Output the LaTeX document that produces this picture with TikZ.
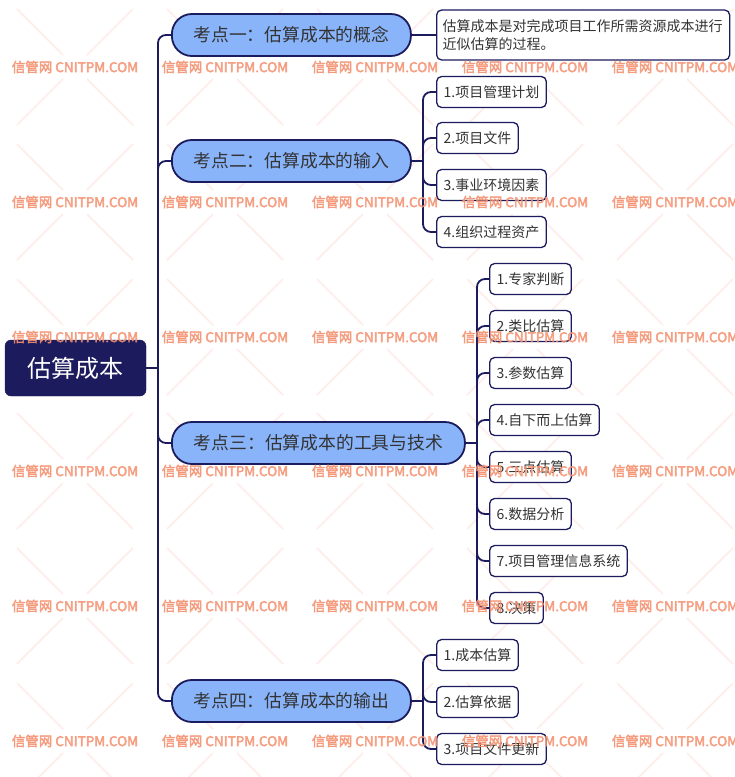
\documentclass[tikz,border=0pt]{standalone}
\usepackage{fontspec}
\setmainfont{Noto Sans CJK SC}
\newfontfamily\wmfont[FakeBold=3]{Noto Sans CJK SC}
\definecolor{navy}{RGB}{28,27,94}
\definecolor{topicblue}{RGB}{137,180,250}
\definecolor{txt}{RGB}{51,51,51}
\definecolor{wmred}{RGB}{245,145,112}
\definecolor{wmline}{RGB}{254,236,232}
\begin{document}
\begin{tikzpicture}[x=1pt,y=-1pt,
  line/.style={draw=navy,line width=1.8pt},
  link/.style={line,rounded corners=8pt},
  rootbox/.style={fill=navy,draw=navy,rounded corners=6pt,minimum width=141pt,minimum height=56pt,text=white,font=\fontsize{24}{28}\selectfont},
  topic/.style={fill=topicblue,draw=navy,line width=1.8pt,rounded corners=20pt,minimum height=42pt,text=txt,font=\fontsize{17.8}{20}\selectfont,anchor=west,inner xsep=0pt},
  leaf/.style={fill=white,draw=navy,line width=1.3pt,rounded corners=5pt,minimum height=31pt,text=txt,font=\fontsize{14}{18}\selectfont,anchor=west,inner xsep=7pt},
  wm/.style={text=wmred,opacity=0.8,font=\wmfont\fontsize{13.5}{15}\selectfont},
  wmx/.style={draw=wmline,line width=1.5pt}
]
\useasboundingbox[fill=white] (0,0) rectangle (735,777);
% faint watermark crosses
\foreach \cx in {75,225,375,525,675}{
  \foreach \cy in {67,202,337,471,606,741}{
    \draw[wmx] (\cx-58,\cy-58) -- (\cx-12,\cy-12);
    \draw[wmx] (\cx+58,\cy-58) -- (\cx+12,\cy-12);
    \draw[wmx] (\cx-58,\cy+58) -- (\cx-12,\cy+12);
    \draw[wmx] (\cx+58,\cy+58) -- (\cx+12,\cy+12);
  }
}
% nodes
\node[rootbox] (root) at (75.5,368) {估算成本};
\node[topic,minimum width=239pt] (t1) at (171,35) {考点一：估算成本的概念};
\node[topic,minimum width=239pt] (t2) at (171,161) {考点二：估算成本的输入};
\node[topic,minimum width=293pt] (t3) at (171,443) {考点三：估算成本的工具与技术};
\node[topic,minimum width=239pt] (t4) at (171,701) {考点四：估算成本的输出};

\node[leaf,minimum height=50pt,align=left,inner xsep=6pt,text width=281pt] (d1) at (436,35) {估算成本是对完成项目工作所需资源成本进行\\近似估算的过程。};

\node[leaf] (a1) at (436,92) {1.项目管理计划};
\node[leaf] (a2) at (436,138) {2.项目文件};
\node[leaf] (a3) at (436,185) {3.事业环境因素};
\node[leaf] (a4) at (436,232) {4.组织过程资产};

\node[leaf] (b1) at (489,279) {1.专家判断};
\node[leaf] (b2) at (489,326) {2.类比估算};
\node[leaf] (b3) at (489,373) {3.参数估算};
\node[leaf] (b4) at (489,420) {4.自下而上估算};
\node[leaf] (b5) at (489,467) {5.三点估算};
\node[leaf] (b6) at (489,514) {6.数据分析};
\node[leaf] (b7) at (489,561) {7.项目管理信息系统};
\node[leaf] (b8) at (489,608) {8.决策};

\node[leaf] (c1) at (436,655) {1.成本估算};
\node[leaf] (c2) at (436,702) {2.估算依据};
\node[leaf] (c3) at (436,749) {3.项目文件更新};

% connectors
\coordinate (j0) at (158,368);
\draw[line] (root.east) -- (j0);
\foreach \t in {t1,t2,t3,t4} \draw[link] (j0) |- (\t.west);

\draw[line] (t1.east) -- (d1.west);

\coordinate (j2) at (423,161);
\draw[line] (t2.east) -- (j2);
\foreach \t in {a1,a2,a3,a4} \draw[link] (j2) |- (\t.west);

\coordinate (j3) at (477,443);
\draw[line] (t3.east) -- (j3);
\foreach \t in {b1,b2,b3,b4,b5,b6,b7,b8} \draw[link] (j3) |- (\t.west);

\coordinate (j4) at (423,701);
\draw[line] (t4.east) -- (j4);
\foreach \t in {c1,c2,c3} \draw[link] (j4) |- (\t.west);

% watermark text
\foreach \cx in {75,225,375,525,675}{
  \foreach \cy in {67,202,337,471,606,741}{
    \node[wm] at (\cx,\cy) {信管网 CNITPM.COM};
  }
}
\end{tikzpicture}
\end{document}
